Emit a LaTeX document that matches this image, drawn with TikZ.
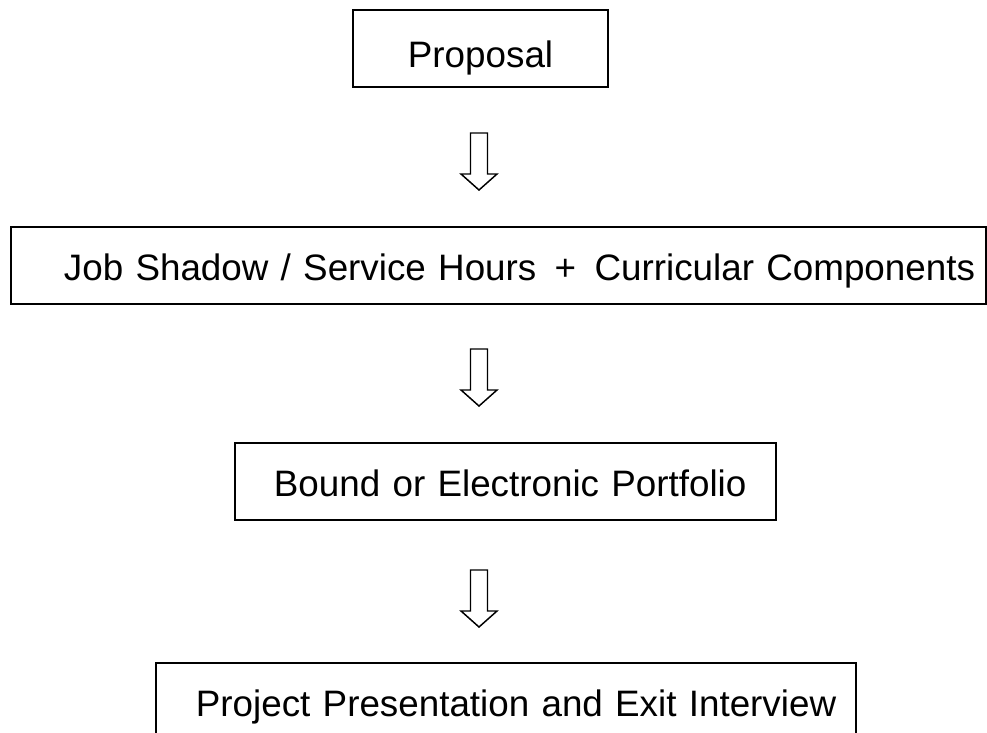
\documentclass[tikz,border=0pt]{standalone}
\usepackage{fontspec}
\setmainfont{Liberation Sans}
\usetikzlibrary{positioning}

\begin{document}
\begin{tikzpicture}[x=0.75pt,y=-0.75pt]
  \tikzset{stage/.style={draw,line width=1.4pt,anchor=north west,inner xsep=0pt,inner ysep=0pt,
      align=left,text height=40.5pt,text depth=17.25pt,font=\fontsize{27.6pt}{33pt}\selectfont},
    blockarrow/.style={draw,line width=1.1pt,fill=white}}
  \useasboundingbox (0,0) rectangle (987,732);
  \clip (0,0) rectangle (987,732);
  \node[stage,text width=191.25pt,text height=43.25pt,text depth=14.5pt] (proposal) at (352,9) {\hspace*{41.25pt}\mbox{Proposal}};
  \node[stage,text width=731.25pt] (shadow) at (10,226) {\hspace*{39.75pt}\mbox{Job Shadow / Service Hours\hspace{0.5em}+\hspace{0.5em}Curricular Components}};
  \node[stage,text width=405.75pt] (portfolio) at (234,442) {\hspace*{29.25pt}\mbox{Bound or Electronic Portfolio}};
  \node[stage,text width=525pt] (exit) at (155,662) {\hspace*{30pt}\mbox{Project Presentation and Exit Interview}};
  % hollow arrows between the stages
  \coordinate (arr1) at (479,133);
  \coordinate (arr2) at (479,349);
  \coordinate (arr3) at (479,570);
  \foreach \a in {arr1,arr2,arr3}
    \draw[blockarrow] (\a) ++(-8.5,0) -- ++(0,41) -- ++(-9.5,0) -- ++(18,16) -- ++(18,-16) -- ++(-9.5,0) -- ++(0,-41) -- cycle;
\end{tikzpicture}
\end{document}
